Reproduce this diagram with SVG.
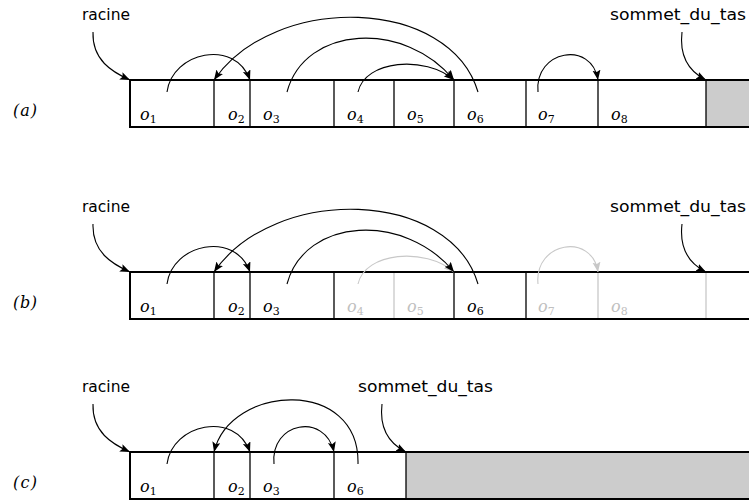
<svg xmlns="http://www.w3.org/2000/svg" width="749" height="501" viewBox="0 0 749 501">
  <style>
    .frame { fill: none; stroke: #000; stroke-width: 2; }
    .div { stroke: #000; stroke-width: 1.3; }
    .div-off { stroke: #c8c8c8; stroke-width: 1.3; }
    .free { fill: #cccccc; stroke: none; }
    .ptr { fill: none; stroke: #000; stroke-width: 1.1; marker-end: url(#head); }
    .ptr-off { fill: none; stroke: #c8c8c8; stroke-width: 1.1; marker-end: url(#head-off); }
    .name { font-family: "DejaVu Sans", "Liberation Sans", sans-serif; font-size: 15px; fill: #000; }
    .tag { font-family: "DejaVu Serif", "Liberation Serif", serif; font-style: italic; font-size: 16px; fill: #000; }
    .obj { font-family: "DejaVu Serif", "Liberation Serif", serif; font-style: italic; font-size: 16px; fill: #000; }
    .obj-off { fill: #c0c0c0; }
    .sub { font-style: normal; font-size: 11px; }
  </style>
  <defs>
    <marker id="head" markerUnits="userSpaceOnUse" markerWidth="12" markerHeight="10" refX="10" refY="4" orient="auto">
      <path d="M0,0 L10,4 L0,8 L2,4 z" fill="#000"/>
    </marker>
    <marker id="head-off" markerUnits="userSpaceOnUse" markerWidth="12" markerHeight="10" refX="10" refY="4" orient="auto">
      <path d="M0,0 L10,4 L0,8 L2,4 z" fill="#c8c8c8"/>
    </marker>
  </defs>

  <!-- (a) heap with eight objects -->
  <g id="row-a">
    <g id="a-free"><rect class="free" x="706" y="80" width="43" height="47"/></g>
    <g id="a-cells">
      <line class="div" x1="214" y1="80" x2="214" y2="127"/>
      <line class="div" x1="250" y1="80" x2="250" y2="127"/>
      <line class="div" x1="334" y1="80" x2="334" y2="127"/>
      <line class="div" x1="394" y1="80" x2="394" y2="127"/>
      <line class="div" x1="454" y1="80" x2="454" y2="127"/>
      <line class="div" x1="526" y1="80" x2="526" y2="127"/>
      <line class="div" x1="598" y1="80" x2="598" y2="127"/>
      <line class="div" x1="706" y1="80" x2="706" y2="127"/>
      <path class="frame" d="M749,80 H130 V127 H749"/>
    </g>
    <text class="tag" x="13" y="116" textLength="24" lengthAdjust="spacing">(a)</text>
    <text id="a-racine" class="name" x="82" y="20" textLength="48" lengthAdjust="spacingAndGlyphs">racine</text>
    <text id="a-sommet" class="name" x="610" y="20" textLength="136" lengthAdjust="spacingAndGlyphs">sommet_du_tas</text>
    <g id="a-o1"><text class="obj" x="140" y="120">o<tspan class="sub" dy="3">1</tspan></text></g>
    <g id="a-o2"><text class="obj" x="228" y="120">o<tspan class="sub" dy="3">2</tspan></text></g>
    <g id="a-o3"><text class="obj" x="263" y="120">o<tspan class="sub" dy="3">3</tspan></text></g>
    <g id="a-o4"><text class="obj" x="347" y="120">o<tspan class="sub" dy="3">4</tspan></text></g>
    <g id="a-o5"><text class="obj" x="407" y="120">o<tspan class="sub" dy="3">5</tspan></text></g>
    <g id="a-o6"><text class="obj" x="467" y="120">o<tspan class="sub" dy="3">6</tspan></text></g>
    <g id="a-o7"><text class="obj" x="538" y="120">o<tspan class="sub" dy="3">7</tspan></text></g>
    <g id="a-o8"><text class="obj" x="611" y="120">o<tspan class="sub" dy="3">8</tspan></text></g>
    <g id="a-links">
      <path class="ptr" d="M93,32 C92,60 112,72 130,80"/>
      <path class="ptr" d="M682,32 C679,58 690,72 706,80"/>
      <path class="ptr" d="M167,92 C172,52 235,38 250,80"/>
      <path class="ptr" d="M478,92 C450,-3 275,-8 214,80"/>
      <path class="ptr" d="M287,92 C305,25 405,20 454,80"/>
      <path class="ptr" d="M358,92 C365,60 425,55 454,80"/>
      <path class="ptr" d="M538,92 C534,50 592,40 598,80"/>
    </g>
  </g>

  <!-- (b) after marking: o4, o5, o7, o8 unreachable -->
  <g id="row-b" transform="translate(0,192)">
    <g id="b-cells">
      <line class="div" x1="214" y1="80" x2="214" y2="127"/>
      <line class="div" x1="250" y1="80" x2="250" y2="127"/>
      <line class="div" x1="334" y1="80" x2="334" y2="127"/>
      <line class="div-off" x1="394" y1="80" x2="394" y2="127"/>
      <line class="div" x1="454" y1="80" x2="454" y2="127"/>
      <line class="div" x1="526" y1="80" x2="526" y2="127"/>
      <line class="div-off" x1="598" y1="80" x2="598" y2="127"/>
      <line class="div-off" x1="706" y1="80" x2="706" y2="127"/>
      <path class="frame" d="M749,80 H130 V127 H749"/>
    </g>
    <text class="tag" x="13" y="116" textLength="24" lengthAdjust="spacing">(b)</text>
    <text id="b-racine" class="name" x="82" y="20" textLength="48" lengthAdjust="spacingAndGlyphs">racine</text>
    <text id="b-sommet" class="name" x="610" y="20" textLength="136" lengthAdjust="spacingAndGlyphs">sommet_du_tas</text>
    <g id="b-o1"><text class="obj" x="140" y="120">o<tspan class="sub" dy="3">1</tspan></text></g>
    <g id="b-o2"><text class="obj" x="228" y="120">o<tspan class="sub" dy="3">2</tspan></text></g>
    <g id="b-o3"><text class="obj" x="263" y="120">o<tspan class="sub" dy="3">3</tspan></text></g>
    <g id="b-o4"><text class="obj obj-off" x="347" y="120">o<tspan class="sub" dy="3">4</tspan></text></g>
    <g id="b-o5"><text class="obj obj-off" x="407" y="120">o<tspan class="sub" dy="3">5</tspan></text></g>
    <g id="b-o6"><text class="obj" x="467" y="120">o<tspan class="sub" dy="3">6</tspan></text></g>
    <g id="b-o7"><text class="obj obj-off" x="538" y="120">o<tspan class="sub" dy="3">7</tspan></text></g>
    <g id="b-o8"><text class="obj obj-off" x="611" y="120">o<tspan class="sub" dy="3">8</tspan></text></g>
    <g id="b-links">
      <path class="ptr-off" d="M358,92 C365,60 425,55 454,80"/>
      <path class="ptr-off" d="M538,92 C534,50 592,40 598,80"/>
      <path class="ptr" d="M93,32 C92,60 112,72 130,80"/>
      <path class="ptr" d="M682,32 C679,58 690,72 706,80"/>
      <path class="ptr" d="M167,92 C172,52 235,38 250,80"/>
      <path class="ptr" d="M478,92 C450,-3 275,-8 214,80"/>
      <path class="ptr" d="M287,92 C305,25 405,20 454,80"/>
    </g>
  </g>

  <!-- (c) after compaction -->
  <g id="row-c" transform="translate(0,372)">
    <g id="c-free"><rect class="free" x="406" y="80" width="343" height="47"/></g>
    <g id="c-cells">
      <line class="div" x1="214" y1="80" x2="214" y2="127"/>
      <line class="div" x1="250" y1="80" x2="250" y2="127"/>
      <line class="div" x1="334" y1="80" x2="334" y2="127"/>
      <line class="div" x1="406" y1="80" x2="406" y2="127"/>
      <path class="frame" d="M749,80 H130 V127 H749"/>
    </g>
    <text class="tag" x="13" y="116" textLength="24" lengthAdjust="spacing">(c)</text>
    <text id="c-racine" class="name" x="82" y="20" textLength="48" lengthAdjust="spacingAndGlyphs">racine</text>
    <text id="c-sommet" class="name" x="358" y="20" textLength="135" lengthAdjust="spacingAndGlyphs">sommet_du_tas</text>
    <g id="c-o1"><text class="obj" x="140" y="120">o<tspan class="sub" dy="3">1</tspan></text></g>
    <g id="c-o2"><text class="obj" x="228" y="120">o<tspan class="sub" dy="3">2</tspan></text></g>
    <g id="c-o3"><text class="obj" x="263" y="120">o<tspan class="sub" dy="3">3</tspan></text></g>
    <g id="c-o6"><text class="obj" x="347" y="120">o<tspan class="sub" dy="3">6</tspan></text></g>
    <g id="c-links">
      <path class="ptr" d="M93,32 C92,60 112,72 130,80"/>
      <path class="ptr" d="M382,32 C379,58 390,72 406,80"/>
      <path class="ptr" d="M167,92 C172,52 235,38 250,80"/>
      <path class="ptr" d="M358,92 C360,5 230,12 214,80"/>
      <path class="ptr" d="M274,92 C270,50 325,40 334,80"/>
    </g>
  </g>
</svg>
